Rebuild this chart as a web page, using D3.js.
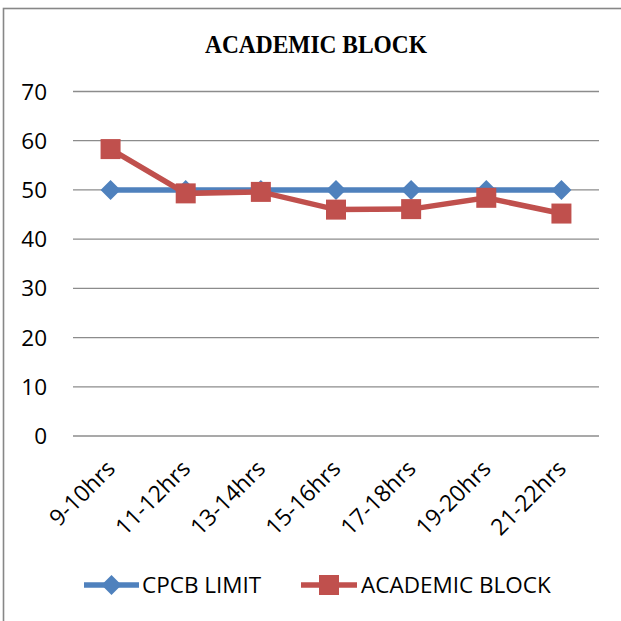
<!DOCTYPE html>
<html lang="en">
<head>
<meta charset="utf-8">
<title>Academic Block</title>
<style>
body {
  margin: 0;
  background: #fff;
}
svg {
  display: block;
}
text {
  font-family: "Open Sans", sans-serif;
  fill: #000;
}
.title {
  font-family: "Liberation Serif", serif;
  font-weight: bold;
}
.grid line {
  stroke: #8c8c8c;
  stroke-width: 1.3;
}
</style>
</head>
<body>
<div id="chart"></div>
<script src="https://cdn.jsdelivr.net/npm/d3@7"></script>
<script>

var hours = ["9-10hrs", "11-12hrs", "13-14hrs", "15-16hrs", "17-18hrs", "19-20hrs", "21-22hrs"];
var cpcbLimit = [50, 50, 50, 50, 50, 50, 50];
var academicBlock = [58.3, 49.3, 49.6, 46.0, 46.1, 48.4, 45.2];
var yTicks = [0, 10, 20, 30, 40, 50, 60, 70];

var width = 621, height = 621;

var svg = d3.select("#chart").append("svg")
  .attr("width", width)
  .attr("height", height);

// chart area border (runs off the right and bottom edges)
svg.append("rect")
  .attr("x", 3.5).attr("y", 8.5)
  .attr("width", 640).attr("height", 640)
  .attr("fill", "none")
  .attr("stroke", "#878787")
  .attr("stroke-width", 1.6);

var x = d3.scalePoint().domain(hours).range([73, 599]).padding(0.5);
var y = d3.scaleLinear().domain([0, 70]).range([436, 91.5]);

svg.append("text")
  .attr("class", "title")
  .attr("x", 316).attr("y", 53)
  .attr("text-anchor", "middle")
  .attr("font-size", 26)
  .attr("textLength", 222)
  .attr("lengthAdjust", "spacingAndGlyphs")
  .text("ACADEMIC BLOCK");

// gridlines
svg.append("g").attr("class", "grid")
  .selectAll("line").data(yTicks).enter().append("line")
  .attr("x1", 73).attr("x2", 599)
  .attr("y1", function(d) { return y(d); })
  .attr("y2", function(d) { return y(d); });

// y labels
svg.append("g").selectAll("text").data(yTicks).enter().append("text")
  .attr("x", 47)
  .attr("y", function(d) { return y(d); })
  .attr("dy", "0.36em")
  .attr("text-anchor", "end")
  .attr("font-size", 22.5)
  .text(function(d) { return d; });

// x labels, rotated
svg.append("g").selectAll("text").data(hours).enter().append("text")
  .attr("text-anchor", "end")
  .attr("font-size", 23)
  .attr("transform", function(d) { return "translate(" + (x(d) + 6) + ",470) rotate(-45)"; })
  .text(function(d) { return d; });

var line = d3.line()
  .x(function(d, i) { return x(hours[i]); })
  .y(function(d) { return y(d); });

var blue = "#4f81bd", red = "#c0504d";

function diamond(g, cx, cy, r) {
  g.append("path")
    .attr("d", "M" + cx + "," + (cy - r) + "L" + (cx + r) + "," + cy + "L" + cx + "," + (cy + r) + "L" + (cx - r) + "," + cy + "Z")
    .attr("fill", blue);
}

// CPCB LIMIT
svg.append("path")
  .datum(cpcbLimit)
  .attr("d", line)
  .attr("fill", "none")
  .attr("stroke", blue)
  .attr("stroke-width", 5.5);

var dg = svg.append("g");
cpcbLimit.forEach(function(d, i) { diamond(dg, x(hours[i]), y(d), 10); });

// ACADEMIC BLOCK
svg.append("path")
  .datum(academicBlock)
  .attr("d", line)
  .attr("fill", "none")
  .attr("stroke", red)
  .attr("stroke-width", 5.5);

svg.append("g").selectAll("rect").data(academicBlock).enter().append("rect")
  .attr("x", function(d, i) { return x(hours[i]) - 10; })
  .attr("y", function(d) { return y(d) - 10; })
  .attr("width", 20).attr("height", 20)
  .attr("fill", red);

// legend
var ly = 585;
var leg = svg.append("g");
leg.append("line").attr("x1", 84).attr("x2", 139).attr("y1", ly).attr("y2", ly)
  .attr("stroke", blue).attr("stroke-width", 5.5);
diamond(leg, 111.5, ly, 10);
leg.append("text").attr("x", 142).attr("y", ly).attr("dy", "0.36em")
  .attr("font-size", 22.5).text("CPCB LIMIT");

leg.append("line").attr("x1", 301).attr("x2", 357).attr("y1", ly).attr("y2", ly)
  .attr("stroke", red).attr("stroke-width", 5.5);
leg.append("rect").attr("x", 319).attr("y", ly - 10).attr("width", 20).attr("height", 20)
  .attr("fill", red);
leg.append("text").attr("x", 361).attr("y", ly).attr("dy", "0.36em")
  .attr("font-size", 22.5).text("ACADEMIC BLOCK");

</script>
</body>
</html>
